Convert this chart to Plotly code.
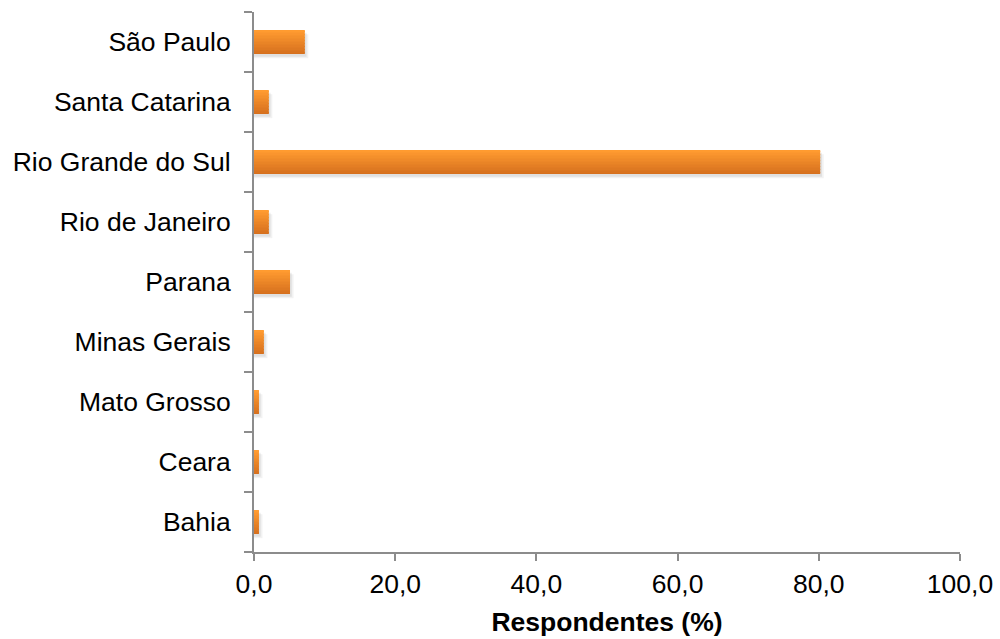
import plotly.graph_objects as go

# Respondents by state (%), listed bottom to top
states = ["Bahia", "Ceara", "Mato Grosso", "Minas Gerais", "Parana",
          "Rio de Janeiro", "Rio Grande do Sul", "Santa Catarina", "São Paulo"]
share = [0.7, 0.7, 0.7, 1.4, 5.1, 2.1, 80.2, 2.1, 7.2]

x_ticks = [0, 20, 40, 60, 80, 100]

FONT = "Liberation Sans, Arial, sans-serif"
AXIS_GREY = "#8c8c8c"
BAR_W = 0.4

fig = go.Figure()

# soft drop shadow under each bar
for k, alpha in enumerate([0.05, 0.07]):
    fig.add_trace(go.Bar(
        x=[v + 0.5 - 0.25 * k for v in share], y=states, orientation="h",
        width=BAR_W, offset=-BAR_W / 2 - 0.07 + 0.025 * k,
        marker=dict(color=f"rgba(0,0,0,{alpha})", line=dict(width=0)),
        hoverinfo="skip", showlegend=False,
    ))

# vertical orange gradient built from thin stacked bands (dark bottom -> light top)
n_bands = 16
dark = (214, 112, 30)
light = (255, 155, 48)
band = BAR_W / n_bands
for i in range(n_bands):
    t = i / (n_bands - 1)
    r, g, b = (round(d + (l - d) * t) for d, l in zip(dark, light))
    fig.add_trace(go.Bar(
        x=share, y=states, orientation="h",
        width=band * 1.02, offset=-BAR_W / 2 + i * band,
        marker=dict(color=f"rgb({r},{g},{b})", line=dict(width=0)),
        showlegend=False,
        hovertemplate="%{y}: %{x:.1f}%<extra></extra>",
    ))

fig.update_layout(
    width=1000, height=639,
    margin=dict(l=254, r=40, t=12, b=87, autoexpand=False),
    barmode="overlay",
    plot_bgcolor="white", paper_bgcolor="white",
    separators=",.",
    font=dict(family=FONT, size=26.5, color="black"),
    showlegend=False,
)

fig.update_yaxes(
    type="category", categoryorder="array", categoryarray=states,
    showline=True, linecolor=AXIS_GREY, linewidth=2,
    ticks="outside", tickson="boundaries", ticklen=8,
    tickcolor=AXIS_GREY, tickwidth=2,
    showgrid=False, zeroline=False,
    ticklabelstandoff=16,
)

fig.update_xaxes(
    range=[0, 100], tickvals=x_ticks, tickformat=".1f",
    showline=True, linecolor=AXIS_GREY, linewidth=2,
    ticks="outside", ticklen=7, tickcolor=AXIS_GREY, tickwidth=2,
    showgrid=False, zeroline=False,
    title=dict(text="<b>Respondentes (%)</b>", font=dict(size=26.5), standoff=15),
)

fig.write_html("out.html")
